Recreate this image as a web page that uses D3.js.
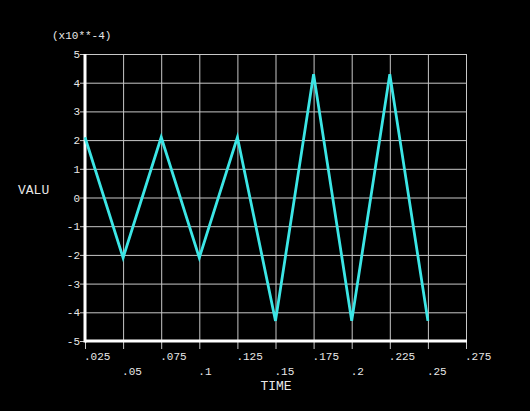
<!DOCTYPE html>
<html>
<head>
<meta charset="utf-8">
<script src="https://cdn.jsdelivr.net/npm/d3@7"></script>
<style>
  body { margin: 0; background: #000; }
  svg { display: block; }
  text { font-family: "Liberation Mono", "DejaVu Sans Mono", monospace; fill: #e8e8e8; }
</style>
</head>
<body>
<div id="chart"></div>
<script>
// data
const times = [0.025, 0.05, 0.075, 0.1, 0.125, 0.15, 0.175, 0.2, 0.225, 0.25];
const valu = [2.1, -2.1, 2.1, -2.1, 2.1, -4.3, 4.3, -4.3, 4.3, -4.3];
const xTicks = [0.025, 0.05, 0.075, 0.1, 0.125, 0.15, 0.175, 0.2, 0.225, 0.25, 0.275];
const xTickLabels = [".025", ".05", ".075", ".1", ".125", ".15", ".175", ".2", ".225", ".25", ".275"];
const yTicks = [-5, -4, -3, -2, -1, 0, 1, 2, 3, 4, 5];

const W = 530, H = 411;
const plot = { left: 85, right: 466, top: 54, bottom: 341 };

const svg = d3.select("#chart").append("svg")
    .attr("width", W)
    .attr("height", H)
    .style("background", "#000");

const x = d3.scaleLinear().domain([0.025, 0.275]).range([plot.left, plot.right]);
const y = d3.scaleLinear().domain([-5, 5]).range([plot.bottom, plot.top]);

// grid + tick marks
svg.selectAll(".hgrid")
    .data(yTicks)
    .enter().append("line")
    .attr("x1", plot.left - 5)
    .attr("x2", plot.right)
    .attr("y1", d => y(d) + 0.5)
    .attr("y2", d => y(d) + 0.5)
    .attr("stroke", "#c8c8c8")
    .attr("stroke-width", 1);

svg.selectAll(".vgrid")
    .data(xTicks)
    .enter().append("line")
    .attr("x1", d => x(d) + 0.5)
    .attr("x2", d => x(d) + 0.5)
    .attr("y1", plot.top)
    .attr("y2", plot.bottom + 8)
    .attr("stroke", "#c8c8c8")
    .attr("stroke-width", 1);

// main axes (white, thick)
svg.append("line")
    .attr("x1", plot.left).attr("x2", plot.left)
    .attr("y1", plot.top).attr("y2", plot.bottom + 1.5)
    .attr("stroke", "#fff").attr("stroke-width", 3);
svg.append("line")
    .attr("x1", plot.left).attr("x2", plot.right + 1)
    .attr("y1", plot.bottom).attr("y2", plot.bottom)
    .attr("stroke", "#fff").attr("stroke-width", 3);

// y tick labels
svg.selectAll(".ylab")
    .data(yTicks)
    .enter().append("text")
    .attr("x", plot.left - 5)
    .attr("y", d => y(d) + 4)
    .attr("text-anchor", "end")
    .attr("font-size", 11)
    .text(d => String(d));

// x tick labels, staggered
svg.selectAll(".xlab")
    .data(xTicks)
    .enter().append("text")
    .attr("x", d => x(d) - 1)
    .attr("y", (d, i) => i % 2 === 0 ? 360 : 375)
    .attr("font-size", 11)
    .text((d, i) => xTickLabels[i]);

// titles
svg.append("text")
    .attr("x", 276).attr("y", 390)
    .attr("text-anchor", "middle")
    .attr("font-size", 13)
    .text("TIME");
svg.append("text")
    .attr("x", 18).attr("y", 194)
    .attr("font-size", 13)
    .text("VALU");
svg.append("text")
    .attr("x", 52).attr("y", 39)
    .attr("font-size", 11)
    .text("(x10**-4)");

// the curve
const line = d3.line()
    .x((d, i) => x(times[i]))
    .y(d => y(d));

svg.append("path")
    .datum(valu)
    .attr("d", line)
    .attr("fill", "none")
    .attr("stroke", "#3ce6e6")
    .attr("stroke-width", 2.8)
    .attr("stroke-linejoin", "miter");
</script>
</body>
</html>
